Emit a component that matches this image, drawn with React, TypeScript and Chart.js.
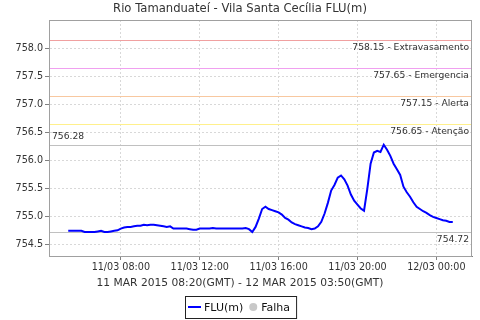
import { useEffect, useRef } from "react";
import { Chart, registerables } from "chart.js";

Chart.register(...registerables);

const TITLE = "Rio Tamanduateí - Vila Santa Cecília FLU(m)";
const PERIOD = "11 MAR 2015 08:20(GMT) - 12 MAR 2015 03:50(GMT)";
const SERIES_LABEL = "FLU(m)";
const FAIL_LABEL = "Falha";

// local time of each reading (11/03 -> 12/03)
const times = [
  "05:20", "05:30", "05:40", "05:50", "06:00", "06:10", "06:20", "06:30", "06:40", "06:50",
  "07:00", "07:10", "07:20", "07:30", "07:40", "07:50", "08:00", "08:10", "08:20", "08:30",
  "08:40", "08:50", "09:00", "09:10", "09:20", "09:30", "09:40", "09:50", "10:00", "10:10",
  "10:20", "10:30", "10:40", "10:50", "11:00", "11:10", "11:20", "11:30", "11:40", "11:50",
  "12:00", "12:10", "12:20", "12:30", "12:40", "12:50", "13:00", "13:10", "13:20", "13:30",
  "13:40", "13:50", "14:00", "14:10", "14:20", "14:30", "14:40", "14:50", "15:00", "15:10",
  "15:20", "15:30", "15:40", "15:50", "16:00", "16:10", "16:20", "16:30", "16:40", "16:50",
  "17:00", "17:10", "17:20", "17:30", "17:40", "17:50", "18:00", "18:10", "18:20", "18:30",
  "18:40", "18:50", "19:00", "19:10", "19:20", "19:30", "19:40", "19:50", "20:00", "20:10",
  "20:20", "20:30", "20:40", "20:50", "21:00", "21:10", "21:20", "21:30", "21:40", "21:50",
  "22:00", "22:10", "22:20", "22:30", "22:40", "22:50", "23:00", "23:10", "23:20", "23:30",
  "23:40", "23:50", "00:00", "00:10", "00:20", "00:30", "00:40", "00:50",
];

const levels = [
  754.74, 754.74, 754.74, 754.74, 754.74, 754.72, 754.72, 754.72, 754.72, 754.73,
  754.74, 754.72, 754.72, 754.73, 754.74, 754.75, 754.78, 754.80, 754.81, 754.81,
  754.82, 754.83, 754.83, 754.85, 754.84, 754.85, 754.85, 754.84, 754.83, 754.82,
  754.81, 754.82, 754.78, 754.78, 754.78, 754.78, 754.78, 754.77, 754.76, 754.76,
  754.78, 754.78, 754.78, 754.78, 754.79, 754.78, 754.78, 754.78, 754.78, 754.78,
  754.78, 754.78, 754.78, 754.78, 754.79, 754.77, 754.72, 754.81, 754.96, 755.13,
  755.17, 755.13, 755.11, 755.09, 755.07, 755.03, 754.97, 754.94, 754.89, 754.86,
  754.84, 754.82, 754.80, 754.79, 754.77, 754.78, 754.82, 754.90, 755.05, 755.24,
  755.46, 755.56, 755.69, 755.73, 755.66, 755.55, 755.39, 755.28, 755.21, 755.14,
  755.10, 755.49, 755.94, 756.14, 756.17, 756.15, 756.28, 756.19, 756.08, 755.94,
  755.84, 755.74, 755.53, 755.43, 755.35, 755.25, 755.17, 755.13, 755.09, 755.06,
  755.02, 754.99, 754.97, 754.95, 754.93, 754.92, 754.90, 754.90,
];

const thresholdValues = [758.15, 757.65, 757.15, 756.65];
const thresholdNames = ["Extravasamento", "Emergencia", "Alerta", "Atenção"];
const thresholdColors = ["#f0a0a0", "#f0a0f0", "#f8c8a0", "#fff08c"];

const maxLevel = 756.28;
const minLevel = 754.72;

const yTicks = [754.5, 755.0, 755.5, 756.0, 756.5, 757.0, 757.5, 758.0];
const yMin = 754.29;
const yMax = 758.51;

const xTickHours = [8, 12, 16, 20, 24];
const xTickLabels = ["11/03 08:00", "11/03 12:00", "11/03 16:00", "11/03 20:00", "12/03 00:00"];

const FONT = "'DejaVu Sans', sans-serif";
const TEXT = "#333333";

function toHours(list: string[]): number[] {
  const out: number[] = [];
  let dayOffset = 0;
  let prev = -1;
  for (const t of list) {
    const [h, m] = t.split(":").map(Number);
    let v = h + m / 60;
    if (v + dayOffset < prev) dayOffset += 24;
    v += dayOffset;
    out.push(v);
    prev = v;
  }
  return out;
}

export default function App() {
  const ref = useRef<HTMLCanvasElement | null>(null);

  useEffect(() => {
    document.body.style.margin = "0";
    const canvas = ref.current;
    if (!canvas) return;
    const hours = toHours(times);
    const first = hours[0];
    const last = hours[hours.length - 1];
    const margin = (last - first) * 0.05;

    const overlay = {
      id: "overlay",
      beforeDatasetsDraw(chart: any) {
        const { ctx, chartArea: a, scales } = chart;
        const y = scales.y;
        ctx.save();
        ctx.lineWidth = 1;
        [maxLevel, minLevel].forEach((v) => {
          const py = Math.round(y.getPixelForValue(v)) + 0.5;
          ctx.strokeStyle = "#c0c0c0";
          ctx.beginPath();
          ctx.moveTo(a.left, py);
          ctx.lineTo(a.right, py);
          ctx.stroke();
        });
        thresholdValues.forEach((v, i) => {
          const py = Math.round(y.getPixelForValue(v)) + 0.5;
          ctx.strokeStyle = thresholdColors[i];
          ctx.beginPath();
          ctx.moveTo(a.left, py);
          ctx.lineTo(a.right, py);
          ctx.stroke();
        });
        ctx.strokeStyle = "#a0a0a0";
        ctx.strokeRect(a.left + 0.5, a.top + 0.5, a.right - a.left - 1, a.bottom - a.top);
        ctx.restore();
      },
      afterDatasetsDraw(chart: any) {
        const { ctx, chartArea: a, scales } = chart;
        const y = scales.y;
        ctx.save();
        ctx.fillStyle = TEXT;
        ctx.font = `9.2px ${FONT}`;
        ctx.textAlign = "right";
        ctx.textBaseline = "top";
        thresholdValues.forEach((v, i) => {
          const py = y.getPixelForValue(v);
          ctx.fillText(`${v.toFixed(2)} - ${thresholdNames[i]}`, a.right - 3, py + 3);
        });
        ctx.fillText(minLevel.toFixed(2), a.right - 3, y.getPixelForValue(minLevel) + 3);
        ctx.textAlign = "left";
        ctx.textBaseline = "bottom";
        ctx.fillText(maxLevel.toFixed(2), a.left + 3, y.getPixelForValue(maxLevel) - 3);
        ctx.restore();
      },
      afterDraw(chart: any) {
        const { ctx, width } = chart;
        ctx.save();
        ctx.fillStyle = TEXT;
        ctx.textAlign = "center";
        ctx.textBaseline = "middle";
        ctx.font = `11.6px ${FONT}`;
        ctx.fillText(TITLE, width / 2, 9);
        ctx.font = `10.7px ${FONT}`;
        ctx.fillText(PERIOD, width / 2, 283);

        // legend
        ctx.font = `11px ${FONT}`;
        const w1 = ctx.measureText(SERIES_LABEL).width;
        const w2 = ctx.measureText(FAIL_LABEL).width;
        const total = 3 + 13 + 3 + w1 + 6 + 8 + 4 + w2 + 6;
        const left = Math.round(width / 2 - total / 2) + 1;
        const top = 296;
        const h = 22;
        const cy = top + h / 2;
        ctx.strokeStyle = "#222";
        ctx.lineWidth = 1;
        ctx.strokeRect(left + 0.5, top + 0.5, total, h);
        ctx.strokeStyle = "#0000ff";
        ctx.lineWidth = 2;
        ctx.beginPath();
        ctx.moveTo(left + 3, cy);
        ctx.lineTo(left + 16, cy);
        ctx.stroke();
        ctx.textAlign = "left";
        ctx.fillStyle = "#111";
        ctx.fillText(SERIES_LABEL, left + 19, cy + 1);
        const cx = left + 19 + w1 + 6 + 4;
        ctx.fillStyle = "#c8c8c8";
        ctx.beginPath();
        ctx.arc(cx, cy, 4, 0, Math.PI * 2);
        ctx.fill();
        ctx.fillStyle = "#111";
        ctx.fillText(FAIL_LABEL, cx + 8, cy + 1);
        ctx.restore();
      },
    };

    const chart = new Chart(canvas, {
      type: "line",
      data: {
        datasets: [
          {
            label: SERIES_LABEL,
            data: hours.map((x, i) => ({ x, y: levels[i] })),
            borderColor: "#0000ff",
            borderWidth: 2,
            pointRadius: 0,
            tension: 0,
            fill: false,
          },
        ],
      },
      options: {
        animation: false,
        responsive: false,
        layout: { padding: { left: 0, right: 8, top: 20, bottom: 0 } },
        plugins: {
          legend: { display: false },
          title: { display: false },
          tooltip: { enabled: false },
        },
        scales: {
          x: {
            type: "linear",
            min: first - margin,
            max: last + margin,
            afterFit(scale: any) {
              scale.height = 64;
            },
            afterBuildTicks(scale: any) {
              scale.ticks = xTickHours.map((v) => ({ value: v }));
            },
            ticks: {
              autoSkip: false,
              maxRotation: 0,
              padding: 2,
              color: TEXT,
              font: { family: FONT, size: 9.6 },
              callback: (v: any) => {
                const i = xTickHours.indexOf(Number(v));
                return i >= 0 ? xTickLabels[i] : "";
              },
            },
            grid: {
              color: "#d8d8d8",
              tickColor: "#808080",
              tickLength: 4,
              tickBorderDash: [],
            },
            border: { color: "#808080", dash: [2, 2] },
          },
          y: {
            type: "linear",
            min: yMin,
            max: yMax,
            afterFit(scale: any) {
              scale.width = 49;
            },
            afterBuildTicks(scale: any) {
              scale.ticks = yTicks.map((v) => ({ value: v }));
            },
            ticks: {
              padding: 2,
              color: TEXT,
              font: { family: FONT, size: 9.6 },
              callback: (v: any) => Number(v).toFixed(1),
            },
            grid: {
              color: "#d8d8d8",
              tickColor: "#808080",
              tickLength: 4,
              tickBorderDash: [],
            },
            border: { color: "#808080", dash: [2, 2] },
          },
        },
      },
      plugins: [overlay],
    });
    return () => chart.destroy();
  }, []);

  return <canvas ref={ref} width={480} height={320} style={{ display: "block" }} />;
}
